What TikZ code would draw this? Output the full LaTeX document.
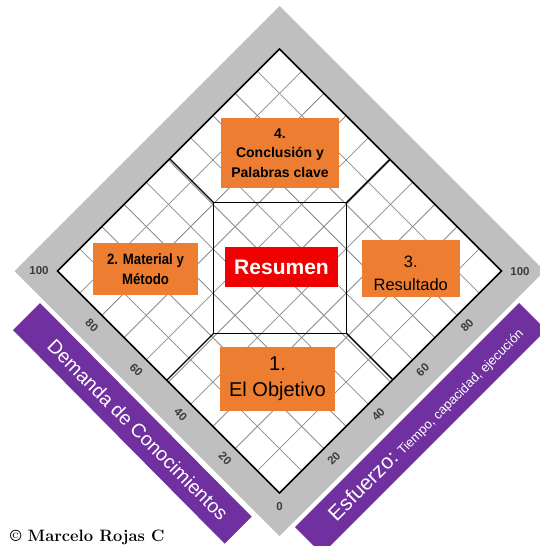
\documentclass[tikz,border=0pt]{standalone}
\usepackage{fontspec}
\newfontfamily\sans{Liberation Sans}
\newfontfamily\narrowsans[FakeStretch=0.88]{Liberation Sans}
\usetikzlibrary{calc}
\definecolor{bandgray}{RGB}{191,191,191}
\definecolor{gridgray}{RGB}{140,140,140}
\definecolor{boxorange}{RGB}{237,125,49}
\definecolor{sumred}{RGB}{240,0,0}
\definecolor{bandpurple}{RGB}{112,48,160}
\definecolor{ticktext}{RGB}{60,60,60}
\tikzset{
  obox/.style={fill=boxorange, inner sep=0pt, align=center, text=black},
  ticklbl/.style={font=\sans\bfseries\fontsize{11.5}{13}\selectfont, text=ticktext, inner sep=0pt},
  gridline/.style={draw=gridgray, line width=0.8pt},
  frameline/.style={draw=black, line width=1.6pt, line join=miter},
  partline/.style={draw=black, line width=1.4pt},
  bandtext/.style={text=white, inner sep=0pt}
}
\begin{document}
\begin{tikzpicture}[x=1pt,y=-1pt]
\useasboundingbox (0,0) rectangle (539,546);
\fill[white] (0,0) rectangle (539,546);
% outer gray band
\coordinate (GT) at (279.5,6);
\coordinate (GL) at (14.5,271);
\coordinate (GR) at (544.5,271);
\coordinate (GB) at (279.5,536);
\fill[bandgray] (GT)--(GR)--(GB)--(GL)--cycle;
% purple bands
\fill[bandpurple] (40,303)--(13,330)--(224.7,543.7)--(251.7,516.7)--cycle;
\fill[bandpurple] (519,303)--(546,330)--(322,554)--(295,527)--cycle;
% inner diamond
\coordinate (T) at (279.5,49);
\coordinate (L) at (57.5,271);
\coordinate (R) at (501.5,271);
\coordinate (B) at (279.5,493);
\fill[white] (T)--(R)--(B)--(L)--cycle;
\foreach \i in {1,...,9}{
  \draw[gridline] ($(L)!\i/10!(B)$) -- ($(T)!\i/10!(R)$);
  \draw[gridline] ($(L)!\i/10!(T)$) -- ($(B)!\i/10!(R)$);
}
\draw[frameline] (T)--(R)--(B)--(L)--cycle;
% central square and diagonals
\coordinate (S1) at (213.7,202.7);
\coordinate (S2) at (346.4,202.7);
\coordinate (S3) at (346.4,333.3);
\coordinate (S4) at (213.7,333.3);
\coordinate (E1) at (169.75,158.75);
\coordinate (E2) at (389.8,159.3);
\coordinate (E3) at (392.8,379.7);
\coordinate (E4) at (166.75,380.25);
\draw[partline] (S1)--(S2)--(S3)--(S4)--cycle;
\draw[partline] (S1)--(E1);
\draw[partline] (S2)--(E2);
\draw[partline] (S3)--(E3);
\draw[partline] (S4)--(E4);
% tick labels
\foreach \v in {20,40,60,80}{
  \node[ticklbl, rotate=-45] (tl\v) at ($(B)!\v/100!(L)+(-10,10)$) {\v};
  \node[ticklbl, rotate=45] (tr\v) at ($(B)!\v/100!(R)+(10,10)$) {\v};
}
\node[ticklbl] (tl100) at (39,271) {100};
\node[ticklbl] (tr100) at (520,272) {100};
\node[ticklbl] (t0) at (279.5,507) {0};
% boxes
\node[obox, minimum width=118pt, minimum height=70pt,
  font={\sans\bfseries\fontsize{14}{19.5}\selectfont}] (b4) at (280,153)
  {4.\\Conclusión y\\Palabras clave};
\node[obox, minimum width=105pt, minimum height=52pt,
  font={\narrowsans\bfseries\fontsize{15}{20}\selectfont}] (b2) at (145.5,269)
  {2. Material y\\Método};
\node[fill=sumred, text=white, inner sep=0pt, minimum width=113pt, minimum height=40pt,
  font={\sans\bfseries\fontsize{21}{21}\selectfont}] (res) at (281.5,267)
  {Resumen};
\node[obox, minimum width=98.5pt, minimum height=57pt] (b3) at (410.75,268.5) {};
\node[align=center, inner sep=0pt,
  font={\sans\fontsize{16.5}{23}\selectfont}] (b3t) at (410.75,273)
  {3.\\Resultado};
\node[obox, minimum width=115pt, minimum height=64pt,
  font={\sans\fontsize{20}{26}\selectfont}] (b1) at (277.5,379)
  {1.\\El Objetivo};
% band texts
\node[bandtext, rotate=-45, font={\sans\fontsize{19.5}{19.5}\selectfont}] (dem) at (138,430)
  {Demanda de Conocimientos};
\node[bandtext, rotate=45, font={\sans\fontsize{21}{21}\selectfont}] (esf) at (426,424)
  {Esfuerzo:{\fontsize{13}{13}\selectfont{} Tiempo, capacidad, ejecución}};
% copyright
\node[anchor=west, inner sep=0pt, font={\fontsize{16.5}{16.5}\selectfont\bfseries}] (copy) at (10,537)
  {\textcopyright{} Marcelo Rojas C};
\end{tikzpicture}
\end{document}
